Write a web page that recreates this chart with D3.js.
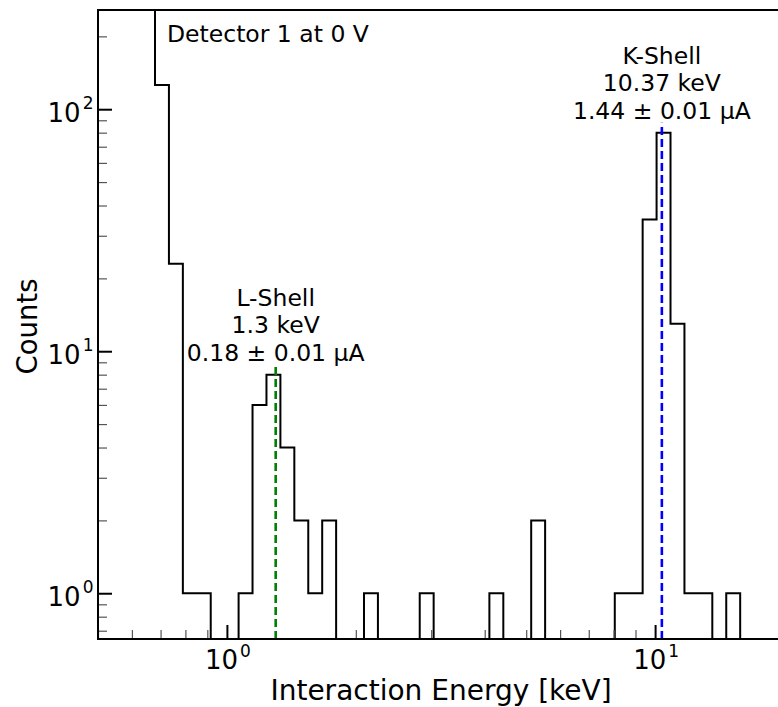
<!DOCTYPE html>
<html>
<head>
<meta charset="utf-8">
<script src="https://cdn.jsdelivr.net/npm/d3@7"></script>
<style>
  body { margin: 0; background: #fff; }
  text { font-family: "DejaVu Sans", sans-serif; fill: #000; }
</style>
</head>
<body>
<script>
// histogram binning (log-spaced edges, keV)
const logEdgeStart = -0.3306;
const logEdgeStep = 0.032538;

// counts per bin (first bins run off the top)
const counts = [900, 1500, 1200, 800, 400, 126, 23, 1, 1, 0, 0, 1, 6, 8, 4, 2, 1, 2, 0, 0,
  1, 0, 0, 0, 1, 0, 0, 0, 0, 1, 0, 0, 2, 0, 0, 0, 0, 0, 1, 1,
  35, 80, 13, 1, 1, 0, 1, 0, 0, 0, 0];

// peak markers
const peakEnergies = [1.3, 10.37];
const peakCounts = [8, 80];
const peakColors = ["#008000", "#0000ff"];
const peakLabels = [
  ["L-Shell", "1.3 keV", "0.18 \u00b1 0.01 \u00b5A"],
  ["K-Shell", "10.37 keV", "1.44 \u00b1 0.01 \u00b5A"]
];

const xMajor = [1, 10];
const xMinor = [0.5, 0.6, 0.7, 0.8, 0.9, 2, 3, 4, 5, 6, 7, 8, 9, 20];
const yMajor = [1, 10, 100];
const yMinor = [0.7, 0.8, 0.9, 2, 3, 4, 5, 6, 7, 8, 9, 20, 30, 40, 50, 60, 70, 80, 90, 200];

const width = 778;
const height = 707;
const marginLeft = 98;
const marginTop = 10;
const plotRight = 784;   // axes extend just past the picture
const plotBottom = 639;

function main() {
  const edges = d3.range(counts.length + 1).map(i => 10 ** (logEdgeStart + i * logEdgeStep));

  const x = d3.scaleLog()
    .domain([0.5, 20])
    .range([marginLeft, plotRight]);

  const y = d3.scaleLog()
    .domain([0.647, 257])
    .range([plotBottom, marginTop]);

  const svg = d3.create("svg")
    .attr("width", width)
    .attr("height", height);

  svg.append("defs").append("clipPath")
    .attr("id", "plot")
    .append("rect")
    .attr("x", marginLeft)
    .attr("y", marginTop)
    .attr("width", plotRight - marginLeft)
    .attr("height", plotBottom - marginTop);

  // step histogram outline
  const yc = c => c > 0 ? y(c) : plotBottom + 20;
  const pts = [[x(edges[0]), plotBottom + 20]];
  counts.forEach((c, i) => {
    pts.push([x(edges[i]), yc(c)]);
    pts.push([x(edges[i + 1]), yc(c)]);
  });
  pts.push([x(edges[counts.length]), plotBottom + 20]);

  svg.append("path")
    .attr("clip-path", "url(#plot)")
    .attr("fill", "none")
    .attr("stroke", "#000")
    .attr("stroke-width", 2)
    .attr("stroke-linejoin", "miter")
    .attr("d", d3.line()(pts));

  // dashed peak lines
  svg.append("g")
    .attr("clip-path", "url(#plot)")
    .selectAll("line")
    .data(peakEnergies)
    .join("line")
    .attr("x1", d => x(d))
    .attr("x2", d => x(d))
    .attr("y1", plotBottom)
    .attr("y2", (d, i) => y(peakCounts[i] * 1.1))
    .attr("stroke", (d, i) => peakColors[i])
    .attr("stroke-width", 2.6)
    .attr("stroke-dasharray", "8,4");

  // peak annotations
  peakEnergies.forEach((e, i) => {
    const lines = peakLabels[i];
    const base = y(peakCounts[i] * 1.1) - 4;
    svg.append("g")
      .selectAll("text")
      .data(lines)
      .join("text")
      .attr("x", x(e))
      .attr("y", (d, k) => base - (lines.length - 1 - k) * 27.5)
      .attr("text-anchor", "middle")
      .attr("font-size", 23.5)
      .text(d => d);
  });

  svg.append("text")
    .attr("x", 167)
    .attr("y", 41.5)
    .attr("font-size", 23.5)
    .text("Detector 1 at 0 V");

  // ticks (pointing inward)
  const tickStyle = (g, w, col) => {
    g.select(".domain").remove();
    g.selectAll("text").remove();
    g.selectAll("line").attr("stroke", col).attr("stroke-width", w);
  };

  svg.append("g")
    .attr("transform", `translate(0,${plotBottom})`)
    .call(d3.axisBottom(x).tickValues(xMinor).tickSize(-9).tickSizeOuter(0).tickFormat(() => ""))
    .call(g => tickStyle(g, 1.2, "#555"));
  svg.append("g")
    .attr("transform", `translate(0,${plotBottom})`)
    .call(d3.axisBottom(x).tickValues(xMajor).tickSize(-14).tickSizeOuter(0).tickFormat(() => ""))
    .call(g => tickStyle(g, 2, "#000"));
  svg.append("g")
    .attr("transform", `translate(${marginLeft},0)`)
    .call(d3.axisLeft(y).tickValues(yMinor).tickSize(-9).tickSizeOuter(0).tickFormat(() => ""))
    .call(g => tickStyle(g, 1.2, "#555"));
  svg.append("g")
    .attr("transform", `translate(${marginLeft},0)`)
    .call(d3.axisLeft(y).tickValues(yMajor).tickSize(-14).tickSizeOuter(0).tickFormat(() => ""))
    .call(g => tickStyle(g, 2, "#000"));

  // tick labels as 10^n
  const expLabel = (sel) => {
    sel.text("10")
      .append("tspan")
      .attr("dx", 2)
      .attr("dy", -12.3)
      .attr("font-size", 17)
      .text(d => Math.round(Math.log10(d)));
  };

  svg.append("g")
    .selectAll("text")
    .data(xMajor)
    .join("text")
    .attr("x", d => x(d) + 1)
    .attr("y", 669)
    .attr("text-anchor", "middle")
    .attr("font-size", 26)
    .call(expLabel);

  svg.append("g")
    .selectAll("text")
    .data(yMajor)
    .join("text")
    .attr("x", marginLeft - 4.5)
    .attr("y", d => y(d) + 12.4)
    .attr("text-anchor", "end")
    .attr("font-size", 26)
    .call(expLabel);

  // axis labels
  svg.append("text")
    .attr("x", (marginLeft + plotRight) / 2)
    .attr("y", 700)
    .attr("text-anchor", "middle")
    .attr("font-size", 28)
    .text("Interaction Energy [keV]");

  svg.append("text")
    .attr("transform", `translate(37,${(marginTop + plotBottom) / 2 + 2}) rotate(-90)`)
    .attr("text-anchor", "middle")
    .attr("font-size", 27.5)
    .text("Counts");

  // frame
  svg.append("rect")
    .attr("x", marginLeft)
    .attr("y", marginTop)
    .attr("width", plotRight - marginLeft)
    .attr("height", plotBottom - marginTop)
    .attr("fill", "none")
    .attr("stroke", "#000")
    .attr("stroke-width", 2);

  document.body.appendChild(svg.node());
}

main();
</script>
</body>
</html>
